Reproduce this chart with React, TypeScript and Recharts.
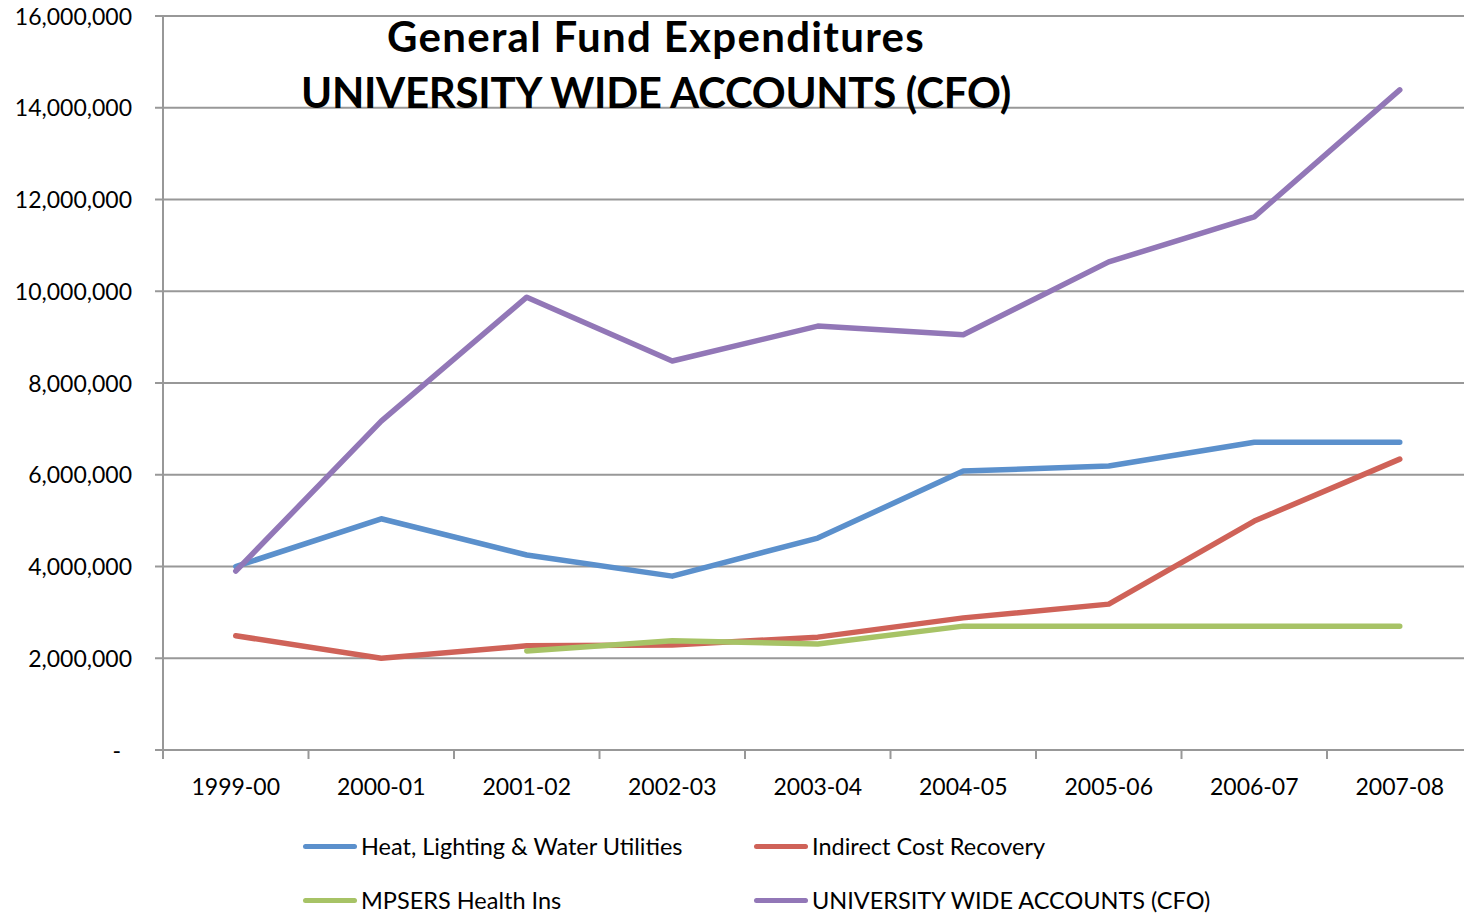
import { CartesianGrid, Legend, Line, LineChart, XAxis, YAxis } from "recharts"

const categories = ["1999-00", "2000-01", "2001-02", "2002-03", "2003-04", "2004-05", "2005-06", "2006-07", "2007-08"]
const heatUtilities = [4.0e6, 5.04e6, 4.25e6, 3.79e6, 4.62e6, 6.08e6, 6.19e6, 6.71e6, 6.71e6]
const indirectCost = [2.49e6, 2.0e6, 2.27e6, 2.29e6, 2.46e6, 2.88e6, 3.18e6, 4.99e6, 6.34e6]
const mpsersHealth = [null, null, 2.16e6, 2.38e6, 2.31e6, 2.7e6, 2.7e6, 2.7e6, 2.7e6]
const universityWide = [3.9e6, 7.17e6, 9.87e6, 8.48e6, 9.24e6, 9.05e6, 10.64e6, 11.62e6, 14.39e6]
const yTicks = [0, 2e6, 4e6, 6e6, 8e6, 10e6, 12e6, 14e6, 16e6]

const series = [
  { key: "heat", name: "Heat, Lighting & Water Utilities", color: "#5b90cc" },
  { key: "indirect", name: "Indirect Cost Recovery", color: "#cf6258" },
  { key: "mpsers", name: "MPSERS Health Ins", color: "#a7c366" },
  { key: "cfo", name: "UNIVERSITY WIDE ACCOUNTS (CFO)", color: "#9277b7" },
]

const data = categories.map((year, i) => ({
  year,
  heat: heatUtilities[i],
  indirect: indirectCost[i],
  mpsers: mpsersHealth[i],
  cfo: universityWide[i],
}))

const FONT = "Lato, Carlito, Calibri, sans-serif"
const GRID = "#989898"
const CHART_W = 1480
const PLOT_LEFT = 163
const PLOT_RIGHT = 7.5
const BAND = (CHART_W - PLOT_LEFT - PLOT_RIGHT) / categories.length

function XTick(props: any) {
  const { x, y, payload, index } = props
  const axisY = y - 8
  return (
    <g>
      <line x1={x - BAND / 2} x2={x - BAND / 2} y1={axisY} y2={axisY + 9} stroke={GRID} strokeWidth={2} />
      {index === categories.length - 1 && (
        <line x1={x + BAND / 2} x2={x + BAND / 2} y1={axisY} y2={axisY + 9} stroke={GRID} strokeWidth={2} />
      )}
      <text x={x} y={axisY + 45} textAnchor="middle" fontSize={23} fontFamily={FONT} fill="#000">
        {payload.value}
      </text>
    </g>
  )
}

function YTick(props: any) {
  const { x, y, payload } = props
  const label = payload.value === 0 ? "-" : payload.value.toLocaleString("en-US")
  return (
    <text x={payload.value === 0 ? x - 11 : x} y={y} dy="0.38em" textAnchor="end" fontSize={23} fontFamily={FONT} fill="#000">
      {label}
    </text>
  )
}

function LegendBox() {
  return (
    <div style={{ position: "relative", width: 1464, height: 100, fontFamily: FONT, fontSize: 23.5, color: "#000" }}>
      {series.map((s, i) => (
        <div
          key={s.key}
          style={{
            position: "absolute",
            left: i % 2 === 0 ? 303 : 754,
            top: i < 2 ? 32 - 14 : 86 - 14,
            height: 28,
            display: "flex",
            alignItems: "center",
            whiteSpace: "nowrap",
          }}
        >
          <div style={{ width: 54, height: 5, borderRadius: 3, background: s.color, marginRight: 4 }} />
          <span>{s.name}</span>
        </div>
      ))}
    </div>
  )
}

export default function App() {
  return (
    <div style={{ position: "absolute", left: 0, top: 0, width: 1464, height: 914, overflow: "hidden", background: "#fff" }}>
      <LineChart width={CHART_W} height={914} data={data} margin={{ top: 16, right: PLOT_RIGHT, bottom: 0, left: 0 }}>
        <CartesianGrid vertical={false} stroke={GRID} strokeWidth={2} />
        <XAxis
          dataKey="year"
          height={64}
          padding={{ left: BAND / 2, right: BAND / 2 }}
          tickLine={false}
          axisLine={{ stroke: GRID, strokeWidth: 2 }}
          tick={<XTick />}
          interval={0}
        />
        <YAxis
          width={PLOT_LEFT}
          domain={[0, 16e6]}
          ticks={yTicks}
          tickSize={8}
          tickMargin={23}
          tickLine={{ stroke: GRID, strokeWidth: 2 }}
          axisLine={{ stroke: GRID, strokeWidth: 2 }}
          tick={<YTick />}
          interval={0}
        />
        <Legend verticalAlign="bottom" align="left" content={() => <LegendBox />} wrapperStyle={{ left: 0, width: 1464 }} />
        {series.map((s) => (
          <Line
            key={s.key}
            type="linear"
            dataKey={s.key}
            name={s.name}
            stroke={s.color}
            strokeWidth={5.5}
            strokeLinecap="round"
            strokeLinejoin="round"
            dot={false}
            activeDot={false}
            isAnimationActive={false}
          />
        ))}
      </LineChart>
      <div
        style={{
          position: "absolute",
          left: 256,
          top: 8,
          width: 800,
          textAlign: "center",
          fontFamily: FONT,
          fontWeight: 700,
          fontSize: 42,
          lineHeight: "56px",
          color: "#000",
        }}
      >
        <span style={{ letterSpacing: 1.3 }}>General Fund Expenditures</span>
        <br />
        <span style={{ letterSpacing: -0.3 }}>UNIVERSITY WIDE ACCOUNTS (CFO)</span>
      </div>
    </div>
  )
}
